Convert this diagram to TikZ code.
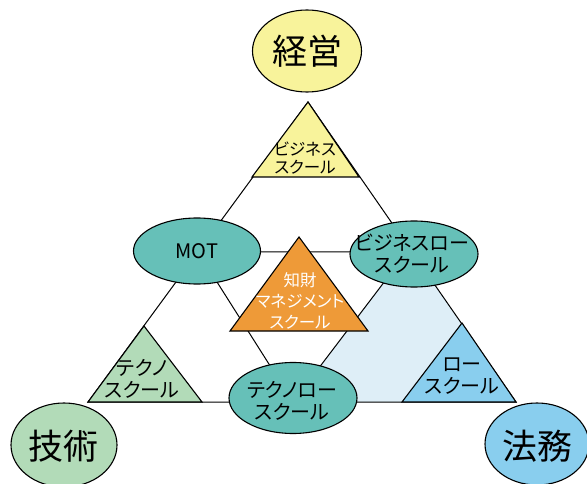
\documentclass[tikz,border=0pt]{standalone}
\usepackage{fontspec}
\setmainfont{Noto Sans CJK JP}[RawFeature=+palt]
\usetikzlibrary{shapes.geometric}
\definecolor{cYellow}{RGB}{248,243,155}
\definecolor{cTeal}{RGB}{102,192,184}
\definecolor{cGreen}{RGB}{178,219,184}
\definecolor{cBlue}{RGB}{137,206,238}
\definecolor{cLight}{RGB}{222,238,247}
\definecolor{cOrange}{RGB}{238,154,56}
\begin{document}
\begin{tikzpicture}[x=1pt,y=-1pt,line width=1pt,
  oval/.style={ellipse,draw=black,line width=1.1pt,inner sep=0pt},
  tri/.style={draw=black,line width=1.1pt},
  bigtxt/.style={font=\fontsize{35}{40}\selectfont,inner sep=0pt},
  smalltxt/.style={font=\fontsize{16.5}{18.5}\selectfont,align=center,inner sep=0pt},
  midtxt/.style={font=\fontsize{20}{22}\selectfont,align=center,inner sep=0pt},
  orgtxt/.style={font=\fontsize{16.5}{21}\selectfont,align=center,inner sep=0pt,text=white}]
\useasboundingbox (0,0) rectangle (587,484);
% geometry
\coordinate (A) at (308,102);
\coordinate (B) at (88,402);
\coordinate (C) at (516,402);
\coordinate (L) at (198,252);
\coordinate (Rin) at (407,252);
\coordinate (Rout) at (412,252);
\coordinate (D) at (293,402);
% light blue region
\fill[cLight] (Rin) -- (D) -- (C) -- (Rout) -- cycle;
% big triangle and inner triangle
\draw (A) -- (B) -- (C) -- cycle;
\draw (L) -- (Rin) -- (D) -- cycle;
% corner triangles
\filldraw[tri,fill=cYellow] (308,102) -- (252,177) -- (359,177) -- cycle;
\filldraw[tri,fill=cGreen] (144,326) -- (88,402) -- (202,402) -- cycle;
\filldraw[tri,fill=cBlue] (462,323) -- (402,402) -- (516,402) -- cycle;
\filldraw[tri,fill=cOrange] (299,237) -- (230,331) -- (368,331) -- cycle;
% ellipses
\node[oval,fill=cYellow,minimum width=109pt,minimum height=82pt] (keiei) at (307,51) {};
\node[oval,fill=cTeal,minimum width=127pt,minimum height=66pt] (mot) at (197,251) {};
\node[oval,fill=cTeal,minimum width=128pt,minimum height=66pt] (bizlaw) at (414,254) {};
\node[oval,fill=cTeal,minimum width=128pt,minimum height=71pt] (teklaw) at (293,398) {};
\node[oval,fill=cGreen,minimum width=106pt,minimum height=84pt] (gijutsu) at (64,445) {};
\node[oval,fill=cBlue,minimum width=104pt,minimum height=82pt] (houmu) at (537,444) {};
% texts
\node[bigtxt] (keieiT) at (keiei) {経営};
\node[bigtxt] (gijutsuT) at (63,446) {技術};
\node[bigtxt] (houmuT) at (537,446) {法務};
\node[smalltxt] (bschool) at (305,158) {ビジネス\\スクール};
\node[midtxt] (motT) at (197,251) {MOT};
\node[midtxt] (bizlawT) at (412,254) {ビジネスロー\\スクール};
\node[orgtxt] (ipT) at (300,301) {知財\\マネジメント\\スクール};
\node[midtxt] (techT) at (142,379) {テクノ\\スクール};
\node[midtxt] (lawT) at (462,376) {ロー\\スクール};
\node[midtxt] (teklawT) at (292,401) {テクノロー\\スクール};
\end{tikzpicture}
\end{document}
